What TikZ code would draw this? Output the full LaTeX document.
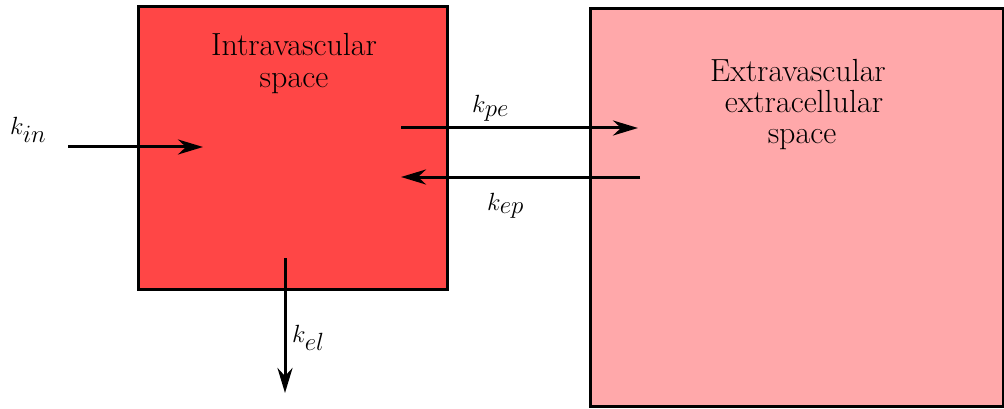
\documentclass[tikz,border=0pt]{standalone}
\usetikzlibrary{arrows.meta}
\DeclareMathSizes{32}{32}{25}{20}
\definecolor{intrared}{RGB}{255,70,70}
\definecolor{extrapink}{RGB}{255,168,170}
\begin{document}
\begin{tikzpicture}[x=1pt,y=-1pt,
  compartment/.style={draw=black,line width=2.6pt,inner sep=0pt,anchor=north west},
  lbl/.style={font=\fontsize{32}{34}\selectfont,inner sep=0pt,anchor=base},
  flow/.style={line width=3pt,-{Stealth[length=25pt,width=15pt,inset=8pt]}},
  rate/.style={font=\fontsize{32}{34}\selectfont,inner sep=0pt,anchor=base west}]
\useasboundingbox (0,0) rectangle (1004,409);
\node[compartment,fill=intrared,minimum width=309pt,minimum height=283pt] (intra) at (137,5) {};
\node[compartment,fill=extrapink,minimum width=413pt,minimum height=398pt] (extra) at (589,7) {};
\node[lbl] (intra1) at (294,56) {Intravascular};
\node[lbl] (intra2) at (294,88) {space};
\node[lbl] (extra1) at (798,82) {Extravascular};
\node[lbl] (extra2) at (804,113) {extracellular};
\node[lbl] (extra3) at (802,143) {space};
\coordinate (inS) at (68,147);
\coordinate (inE) at (203,147);
\coordinate (peS) at (401,128);
\coordinate (peE) at (638,128);
\coordinate (epS) at (640,177);
\coordinate (epE) at (401,177);
\coordinate (elS) at (285,258);
\coordinate (elE) at (285,393);
\draw[flow] (inS) -- (inE);
\draw[flow] (peS) -- (peE);
\draw[flow] (epS) -- (epE);
\draw[flow] (elS) -- (elE);
\node[rate] (kin) at (10,135) {$k_{in}$};
\node[rate] (kpe) at (472,113) {$k_{pe}$};
\node[rate] (kep) at (487,210) {$k_{ep}$};
\node[rate] (kel) at (292,342) {$k_{el}$};
\end{tikzpicture}
\end{document}
